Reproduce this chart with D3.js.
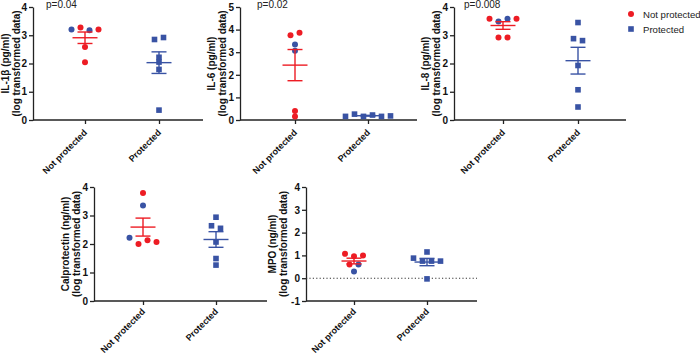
<!DOCTYPE html>
<html><head><meta charset="utf-8">
<script src="https://cdn.jsdelivr.net/npm/d3@7"></script>
<style>body{margin:0;background:#fff}svg{display:block;font-family:Arial,"Liberation Sans",sans-serif}</style>
</head><body><svg id="c" width="700" height="355"></svg>
<script>
// ---------- data ----------
const categories = ["Not protected", "Protected"];
const panelTitles = ["IL-1β (pg/ml)", "IL-6 (pg/ml)", "IL-8 (pg/ml)", "Calprotectin (ng/ml)", "MPO (ng/ml)"];
const subtitle = "(log transformed data)";
const pValues = ["p=0.04", "p=0.02", "p=0.008", null, null];
const yDomains = [[0, 4], [0, 5], [0, 4], [0, 4], [-1, 4]];
const yTicks = [[0,1,2,3,4], [0,1,2,3,4,5], [0,1,2,3,4], [0,1,2,3,4], [-1,0,1,2,3,4]];

const il1bNot = [3.20, 3.27, 3.18, 3.20, 2.58, 2.04];
const il1bNotColor = ["b", "r", "b", "r", "r", "r"];
const il1bProt = [2.85, 2.92, 2.22, 2.05, 1.79, 0.35];

const il6Not = [3.75, 3.86, 3.34, 3.06, 0.40, 0.16];
const il6NotColor = ["r", "r", "b", "b", "r", "r"];
const il6Prot = [0.16, 0.26, 0.16, 0.22, 0.16, 0.18];

const il8Not = [3.58, 3.49, 3.58, 3.58, 2.92, 2.92];
const il8NotColor = ["r", "b", "b", "r", "r", "r"];
const il8Prot = [3.45, 2.88, 2.81, 1.93, 1.07, 0.46];

const calNot = [3.79, 3.35, 2.22, 2.00, 2.13, 2.07];
const calNotColor = ["r", "b", "b", "r", "r", "r"];
const calProt = [2.94, 2.64, 2.55, 2.07, 1.49, 1.26];

const mpoNot = [1.07, 0.96, 1.00, 0.60, 0.60, 0.29];
const mpoNotColor = ["r", "r", "r", "r", "b", "b"];
const mpoProt = [0.88, 1.15, 0.75, 0.75, 0.75, -0.03];

const legendLabels = ["Not protected", "Protected"];

// ---------- styling / layout ----------
const RED = "#ed1c24", BLUE = "#3953a4", AXIS = "#222";
const colorOf = k => k === "r" ? RED : BLUE;

const notSets = [il1bNot, il6Not, il8Not, calNot, mpoNot];
const notColors = [il1bNotColor, il6NotColor, il8NotColor, calNotColor, mpoNotColor];
const protSets = [il1bProt, il6Prot, il8Prot, calProt, mpoProt];

const layout = [
  {l: 33,  r: 203, t: 7,   b: 120, cx: [85, 159],  lab: [-28, -17], px: 46,  cd: 11},
  {l: 240, r: 417, t: 7,   b: 120, cx: [295, 368], lab: [-29, -18], px: 257, cd: 11},
  {l: 454, r: 626, t: 7,   b: 120, cx: [503, 578], lab: [-29, -18], px: 464, cd: 11},
  {l: 94,  r: 267, t: 187, b: 301, cx: [143, 216], lab: [-29, -18], cd: 9},
  {l: 306, r: 477, t: 187, b: 301, cx: [354, 427], lab: [-34, -23], cd: 9}
];

const svg = d3.select("#c");

// centered-row scatter offsets (points closer than thr px vertically share a row)
function rowOffsets(vals, y, spacing = 9, thr = 3.5) {
  const idx = vals.map((v, i) => i).sort((a, b) => y(vals[b]) - y(vals[a]));
  const groups = [];
  let cur = [idx[0]];
  for (let k = 1; k < idx.length; k++) {
    if (Math.abs(y(vals[idx[k]]) - y(vals[idx[k - 1]])) < thr) cur.push(idx[k]);
    else { groups.push(cur); cur = [idx[k]]; }
  }
  groups.push(cur);
  const off = new Array(vals.length).fill(0);
  groups.forEach(g => {
    g.sort((a, b) => a - b);
    g.forEach((i, k) => off[i] = (k - (g.length - 1) / 2) * spacing);
  });
  return off;
}

layout.forEach((L, pi) => {
  const g = svg.append("g");
  const y = d3.scaleLinear().domain(yDomains[pi]).range([L.b, L.t]);
  const x = d3.scalePoint().domain(categories).range(L.cx);

  // y axis
  const ya = g.append("g").attr("transform", `translate(${L.l},0)`)
    .call(d3.axisLeft(y).tickValues(yTicks[pi]).tickSize(4).tickSizeOuter(0).tickPadding(2).tickFormat(d3.format("d")));
  ya.select(".domain").attr("stroke", AXIS).attr("stroke-width", 1.3);
  ya.selectAll(".tick line").attr("stroke", AXIS).attr("stroke-width", 1.3);
  ya.selectAll(".tick text").attr("fill", "#111").attr("font-size", 10).attr("font-weight", "bold")
    .attr("font-family", "Arial, 'Liberation Sans', sans-serif").text(d => d < 0 ? "-" + Math.abs(d) : d);

  // x axis
  g.append("line").attr("x1", L.l).attr("x2", L.r).attr("y1", L.b).attr("y2", L.b)
    .attr("stroke", AXIS).attr("stroke-width", 1.3);
  const xa = g.append("g").attr("transform", `translate(0,${L.b})`)
    .call(d3.axisBottom(x).tickSize(4).tickSizeOuter(0).tickFormat(""));
  xa.select(".domain").remove();
  xa.selectAll(".tick line").attr("stroke", AXIS).attr("stroke-width", 1.3);
  categories.forEach(c => {
    g.append("text")
      .attr("transform", `translate(${x(c) + 0.5},${L.b + L.cd}) rotate(-45)`)
      .attr("text-anchor", "end").attr("dy", "0.35em")
      .attr("font-size", 9).attr("font-weight", "bold").attr("fill", "#111")
      .text(c);
  });

  // zero reference line (MPO)
  if (yDomains[pi][0] < 0) {
    g.append("line").attr("x1", L.l).attr("x2", L.r).attr("y1", y(0)).attr("y2", y(0))
      .attr("stroke", "#333").attr("stroke-width", 1.1).attr("stroke-dasharray", "1.2,2.2");
  }

  // y title
  const cy = (L.t + L.b) / 2;
  g.append("text").attr("transform", `translate(${L.l + L.lab[0]},${cy}) rotate(-90)`)
    .attr("text-anchor", "middle").attr("dominant-baseline", "central")
    .attr("font-size", 10).attr("font-weight", "bold").attr("fill", "#111").text(panelTitles[pi]);
  g.append("text").attr("transform", `translate(${L.l + L.lab[1]},${cy}) rotate(-90)`)
    .attr("text-anchor", "middle").attr("dominant-baseline", "central")
    .attr("font-size", 10).attr("font-weight", "bold").attr("fill", "#111").text(subtitle);

  // p value
  if (pValues[pi]) {
    g.append("text").attr("x", L.px).attr("y", 8).attr("font-size", 10)
      .attr("fill", "#222").text(pValues[pi]);
  }

  // points
  const nv = notSets[pi], nc = notColors[pi], pv = protSets[pi];
  const no = rowOffsets(nv, y), po = rowOffsets(pv, y);
  nv.forEach((v, i) => {
    g.append("circle").attr("cx", x(categories[0]) + no[i]).attr("cy", y(v)).attr("r", 3)
      .attr("fill", colorOf(nc[i]));
  });
  pv.forEach((v, i) => {
    g.append("rect").attr("x", x(categories[1]) + po[i] - 2.8).attr("y", y(v) - 2.8)
      .attr("width", 5.6).attr("height", 5.6).attr("fill", BLUE);
  });

  // mean ± SEM
  [[nv, categories[0], RED], [pv, categories[1], BLUE]].forEach(([vals, c, col]) => {
    const m = d3.mean(vals), se = d3.deviation(vals) / Math.sqrt(vals.length);
    const cxp = x(c);
    const eb = g.append("g").attr("stroke", col).attr("stroke-width", 1.4).attr("fill", "none");
    eb.append("line").attr("x1", cxp - 12.5).attr("x2", cxp + 12.5).attr("y1", y(m)).attr("y2", y(m));
    eb.append("line").attr("x1", cxp).attr("x2", cxp).attr("y1", y(m + se)).attr("y2", y(m - se));
    eb.append("line").attr("x1", cxp - 7.5).attr("x2", cxp + 7.5).attr("y1", y(m + se)).attr("y2", y(m + se));
    eb.append("line").attr("x1", cxp - 7.5).attr("x2", cxp + 7.5).attr("y1", y(m - se)).attr("y2", y(m - se));
  });
});

// legend
const lg = svg.append("g");
lg.append("circle").attr("cx", 631).attr("cy", 14).attr("r", 3).attr("fill", RED);
lg.append("rect").attr("x", 628.2).attr("y", 26.2).attr("width", 5.6).attr("height", 5.6).attr("fill", BLUE);
legendLabels.forEach((t, i) => {
  lg.append("text").attr("x", 643).attr("y", 14 + i * 15).attr("dominant-baseline", "central")
    .attr("font-size", 9.6).attr("fill", "#222").text(t);
});
</script>
</body></html>
